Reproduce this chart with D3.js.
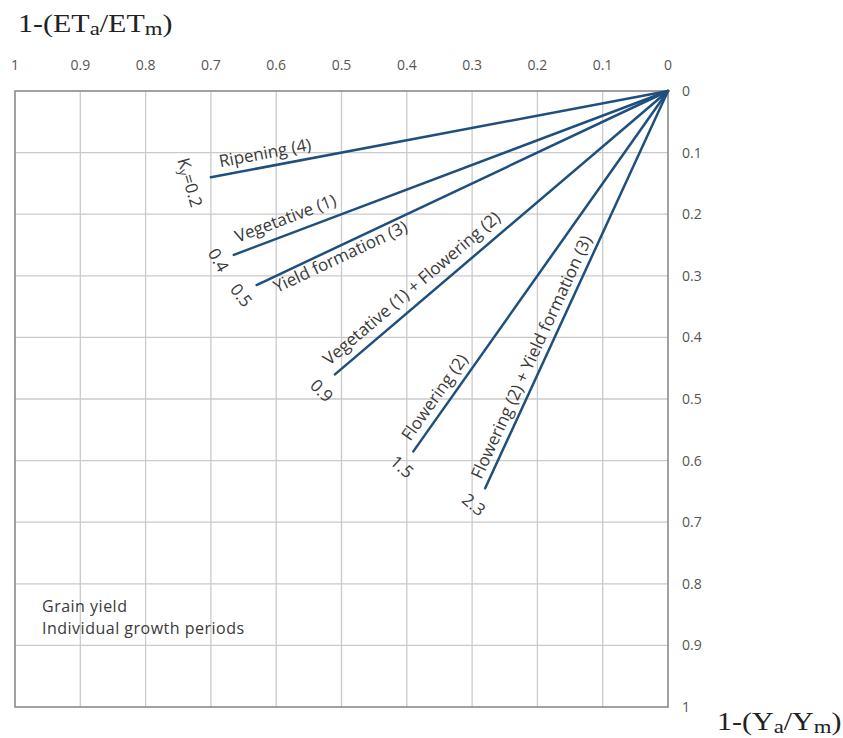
<!DOCTYPE html>
<html>
<head>
<meta charset="utf-8">
<script src="https://cdn.jsdelivr.net/npm/d3@7"></script>
<style>
  body { margin: 0; background: #fff; }
  .tick-label { font-family: "Open Sans", sans-serif; font-size: 14px; fill: #555; }
  .stage-label { font-family: "Open Sans", sans-serif; font-size: 17px; fill: #3a3a3a; }
  .ky-label { font-family: "Open Sans", sans-serif; font-size: 17px; fill: #3a3a3a; }
  .axis-title { font-family: "Liberation Serif", "Times New Roman", serif; font-size: 25px; font-weight: normal; fill: #222; }
  .note { font-family: "Open Sans", sans-serif; font-size: 16px; fill: #3a3a3a; letter-spacing: 0.5px; }
</style>
</head>
<body>
<div id="chart"></div>
<script>
// growth stages and their yield response factor Ky
var stages = ["Ripening (4)", "Vegetative (1)", "Yield formation (3)",
    "Vegetative (1) + Flowering (2)", "Flowering (2)", "Flowering (2) + Yield formation (3)"]
var kyValues = ["0.2", "0.4", "0.5", "0.9", "1.5", "2.3"]
// end point of each line: relative ET deficit and relative yield decrease
var etDeficit = [0.70, 0.665, 0.63, 0.51, 0.39, 0.28]
var yieldDecrease = [0.14, 0.266, 0.315, 0.46, 0.585, 0.645]
var xTicks = [1, 0.9, 0.8, 0.7, 0.6, 0.5, 0.4, 0.3, 0.2, 0.1, 0]
var yTicks = [0, 0.1, 0.2, 0.3, 0.4, 0.5, 0.6, 0.7, 0.8, 0.9, 1]
var noteLines = ["Grain yield", "Individual growth periods"]

var width = 843, height = 738
var box = {left: 15, right: 668, top: 91, bottom: 707}

var svg = d3.select("#chart").append("svg")
    .attr("width", width)
    .attr("height", height)

var x = d3.scaleLinear().domain([1, 0]).range([box.left, box.right])
var y = d3.scaleLinear().domain([0, 1]).range([box.top, box.bottom])

// grid
var grid = svg.append("g")
grid.selectAll(".vgrid")
    .data(xTicks.slice(1, -1))
    .enter().append("line")
    .attr("x1", d => x(d)).attr("x2", d => x(d))
    .attr("y1", box.top).attr("y2", box.bottom)
    .attr("stroke", "#cacaca").attr("stroke-width", 1.3)
grid.selectAll(".hgrid")
    .data(yTicks.slice(1, -1))
    .enter().append("line")
    .attr("x1", box.left).attr("x2", box.right)
    .attr("y1", d => y(d)).attr("y2", d => y(d))
    .attr("stroke", "#cacaca").attr("stroke-width", 1.3)

svg.append("rect")
    .attr("x", box.left).attr("y", box.top)
    .attr("width", box.right - box.left).attr("height", box.bottom - box.top)
    .attr("fill", "none").attr("stroke", "#8a8a8a").attr("stroke-width", 1.6)

// tick labels
svg.append("g").selectAll("text")
    .data(xTicks)
    .enter().append("text")
    .attr("class", "tick-label")
    .attr("x", d => x(d))
    .attr("y", 70)
    .attr("text-anchor", "middle")
    .text(d => d)

svg.append("g").selectAll("text")
    .data(yTicks)
    .enter().append("text")
    .attr("class", "tick-label")
    .attr("x", 682)
    .attr("y", d => y(d) + 5)
    .text(d => d)

// axis titles (original lettering is stretched sideways)
function axisTitle(px, py, main, sub1, mid, sub2) {
    var t = svg.append("text").attr("class", "axis-title")
        .attr("transform", "translate(" + px + "," + py + ") scale(1.2,1)")
    t.append("tspan").text(main)
    t.append("tspan").attr("font-size", 19).attr("dy", 3).text(sub1)
    t.append("tspan").attr("dy", -3).text(mid)
    t.append("tspan").attr("font-size", 19).attr("dy", 3).text(sub2)
    t.append("tspan").attr("dy", -3).text(")")
}
axisTitle(18, 32, "1-(ET", "a", "/ET", "m")
axisTitle(717, 730, "1-(Y", "a", "/Y", "m")

// lines
var lineData = stages.map((s, i) => ({
    stage: s, ky: kyValues[i], et: etDeficit[i], yd: yieldDecrease[i]
}))

svg.append("g").selectAll("line")
    .data(lineData)
    .enter().append("line")
    .attr("x1", x(0)).attr("y1", y(0))
    .attr("x2", d => x(d.et)).attr("y2", d => y(d.yd))
    .attr("stroke", "#1f4f7d").attr("stroke-width", 2.5)
    .attr("stroke-linecap", "round")

// label placement: offset along the line from its end, offset across it, Ky label offset and rotation
var along = [11, 8, 15, 1, 6, 6]
var across = [-8, -10, 16, -10, -8, -7]
var kyShift = [[-20, 5], [-15, 5], [-15, 10], [-13, 16], [-11, 15], [-11, 16]]
var kyRotate = [74, 60, 52, 45, 42, 40]

lineData.forEach(function(d, i) {
    var ex = x(d.et), ey = y(d.yd)
    var dx = x(0) - ex, dy = y(0) - ey
    var len = Math.sqrt(dx * dx + dy * dy)
    var ux = dx / len, uy = dy / len
    var angle = Math.atan2(dy, dx) * 180 / Math.PI
    // normal pointing to lower-right is (-uy, ux)
    var px = ex + ux * along[i] + (-uy) * across[i]
    var py = ey + uy * along[i] + ux * across[i]
    svg.append("text")
        .attr("class", "stage-label")
        .attr("transform", "translate(" + px + "," + py + ") rotate(" + angle + ")")
        .text(d.stage)

    var k = svg.append("text")
        .attr("class", "ky-label")
        .attr("text-anchor", "middle")
        .attr("dominant-baseline", "central")
        .attr("transform", "translate(" + (ex + kyShift[i][0]) + "," + (ey + kyShift[i][1]) + ") rotate(" + kyRotate[i] + ")")
    if (i == 0) {
        k.append("tspan").text("K")
        k.append("tspan").attr("font-size", 12).attr("dy", 4).text("y")
        k.append("tspan").attr("dy", -4).text("=" + d.ky)
    } else {
        k.text(d.ky)
    }
})

// note block in the lower left corner
svg.append("text").attr("class", "note")
    .selectAll("tspan")
    .data(noteLines)
    .enter().append("tspan")
    .attr("x", 42)
    .attr("y", (d, i) => 612 + i * 22)
    .text(d => d)
</script>
</body>
</html>
